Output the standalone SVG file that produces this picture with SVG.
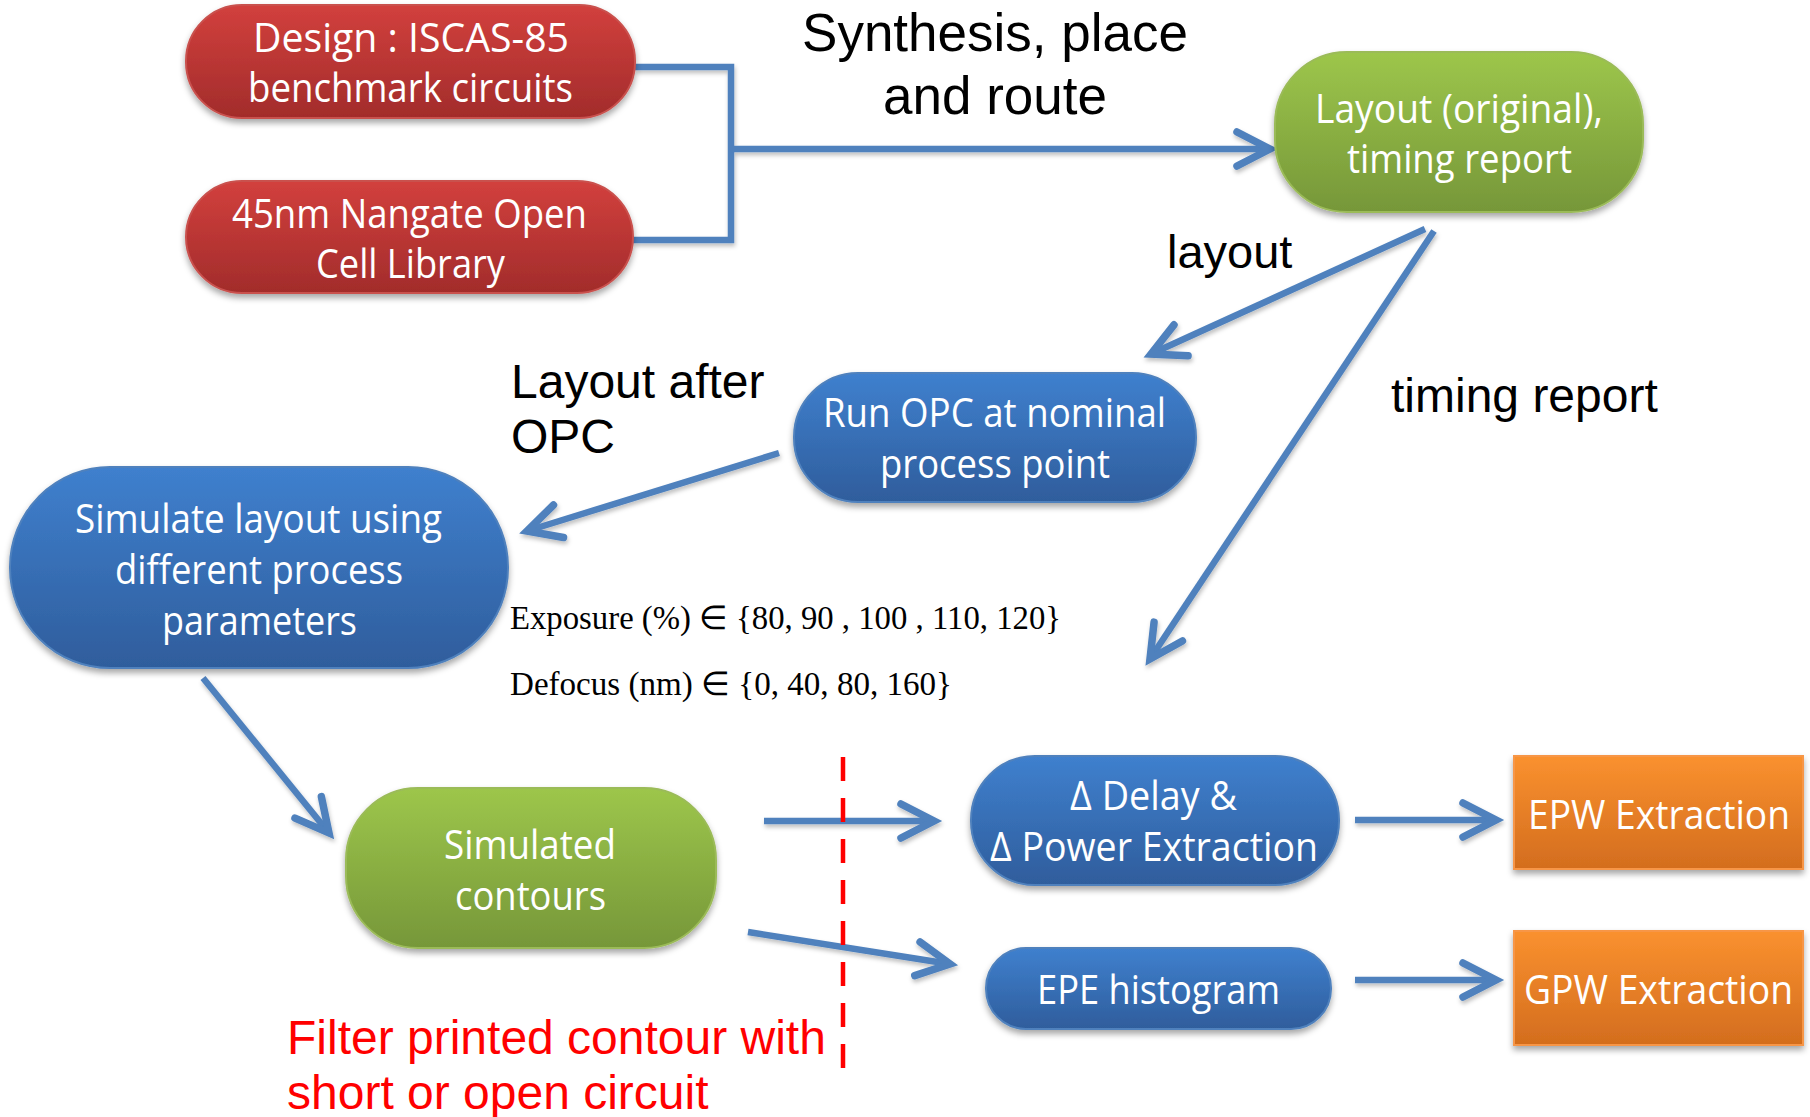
<svg xmlns="http://www.w3.org/2000/svg" width="1810" height="1117" viewBox="0 0 1810 1117">
<defs>
  <linearGradient id="gRed" x1="0" y1="0" x2="0" y2="1"><stop offset="0" stop-color="#d2403d"/><stop offset="1" stop-color="#a22c2b"/></linearGradient>
  <linearGradient id="gGreen" x1="0" y1="0" x2="0" y2="1"><stop offset="0" stop-color="#9dc64b"/><stop offset="1" stop-color="#769739"/></linearGradient>
  <linearGradient id="gBlue" x1="0" y1="0" x2="0" y2="1"><stop offset="0" stop-color="#3f80ce"/><stop offset="1" stop-color="#2f5d9c"/></linearGradient>
  <linearGradient id="gOrange" x1="0" y1="0" x2="0" y2="1"><stop offset="0" stop-color="#fa912f"/><stop offset="1" stop-color="#d36d1e"/></linearGradient>
  <filter id="shadow" x="-10%" y="-10%" width="120%" height="130%">
    <feDropShadow dx="0" dy="4" stdDeviation="3" flood-color="#000" flood-opacity="0.35"/>
  </filter>
  <filter id="lshadow" x="-10%" y="-10%" width="120%" height="130%">
    <feDropShadow dx="1" dy="3" stdDeviation="2" flood-color="#000" flood-opacity="0.25"/>
  </filter>
  <marker id="arrow" markerUnits="userSpaceOnUse" viewBox="-40 -24 46 48" markerWidth="46" markerHeight="48" refX="0" refY="0" orient="auto" overflow="visible">
    <path d="M -33 -17 L 0 0 L -33 17" fill="none" stroke="#4f81bd" stroke-width="7.5" stroke-linecap="round" stroke-linejoin="miter"/>
  </marker>
</defs>
<style>
  .nt { font-family: "Open Sans", "Noto Sans", sans-serif; font-size: 40px; fill: #ffffff; text-anchor: middle; }
  .lbl { font-family: "Liberation Sans", Arial, sans-serif; fill: #000000; }
  .math { font-family: "Liberation Serif", "Times New Roman", serif; font-size: 33px; fill: #000000; }
  .conn { stroke: #4f81bd; stroke-width: 6.5; fill: none; }
  .red { fill: url(#gRed); stroke: #c9514e; stroke-width: 2; }
  .green { fill: url(#gGreen); stroke: #9bbb59; stroke-width: 2; }
  .blue { fill: url(#gBlue); stroke: #4f81bd; stroke-width: 2; }
  .orange { fill: url(#gOrange); stroke: #f79646; stroke-width: 2; }
</style>
<rect width="1810" height="1117" fill="#ffffff"/>

<g id="connectors" filter="url(#lshadow)">
  <polyline class="conn" points="635,67 731,67 731,240 633,240"/>
  <line class="conn" x1="731" y1="149" x2="1270" y2="149" marker-end="url(#arrow)"/>
  <line class="conn" x1="1425" y1="229" x2="1151" y2="354" marker-end="url(#arrow)"/>
  <line class="conn" x1="1434" y1="231" x2="1150" y2="659" marker-end="url(#arrow)"/>
  <line class="conn" x1="779" y1="453" x2="527" y2="531" marker-end="url(#arrow)"/>
  <line class="conn" x1="203" y1="678" x2="329" y2="833" marker-end="url(#arrow)"/>
  <line class="conn" x1="764" y1="821" x2="934" y2="821" marker-end="url(#arrow)"/>
  <line class="conn" x1="748" y1="932" x2="950" y2="964" marker-end="url(#arrow)"/>
  <line class="conn" x1="1355" y1="820" x2="1496" y2="820" marker-end="url(#arrow)"/>
  <line class="conn" x1="1355" y1="980" x2="1496" y2="980" marker-end="url(#arrow)"/>
</g>

<line id="filter-line" x1="843" y1="757" x2="843" y2="1074" stroke="#ff0000" stroke-width="4.5" stroke-dasharray="24,17"/>

<g id="design">
  <rect class="red" x="186" y="5" width="449" height="113" rx="56" filter="url(#shadow)"/>
  <text class="nt" x="411" y="52" textLength="316" lengthAdjust="spacingAndGlyphs">Design : ISCAS-85</text>
  <text class="nt" x="410.5" y="102" textLength="325" lengthAdjust="spacingAndGlyphs">benchmark circuits</text>
</g>
<g id="nangate">
  <rect class="red" x="186" y="181" width="447" height="112" rx="56" filter="url(#shadow)"/>
  <text class="nt" x="409.5" y="228" textLength="355" lengthAdjust="spacingAndGlyphs">45nm Nangate Open</text>
  <text class="nt" x="410.5" y="278" textLength="189" lengthAdjust="spacingAndGlyphs">Cell Library</text>
</g>
<g id="layout-original">
  <rect class="green" x="1275" y="52" width="368" height="160" rx="72" filter="url(#shadow)"/>
  <text class="nt" x="1459" y="123" textLength="288" lengthAdjust="spacingAndGlyphs">Layout (original),</text>
  <text class="nt" x="1459.5" y="173" textLength="225" lengthAdjust="spacingAndGlyphs">timing report</text>
</g>
<g id="run-opc">
  <rect class="blue" x="794" y="373" width="402" height="129" rx="64" filter="url(#shadow)"/>
  <text class="nt" x="994.5" y="427" textLength="343" lengthAdjust="spacingAndGlyphs">Run OPC at nominal</text>
  <text class="nt" x="995" y="478" textLength="230" lengthAdjust="spacingAndGlyphs">process point</text>
</g>
<g id="simulate">
  <rect class="blue" x="10" y="467" width="498" height="201" rx="100" filter="url(#shadow)"/>
  <text class="nt" x="258.5" y="533" textLength="367" lengthAdjust="spacingAndGlyphs">Simulate layout using</text>
  <text class="nt" x="259" y="584" textLength="288" lengthAdjust="spacingAndGlyphs">different process</text>
  <text class="nt" x="259.5" y="635" textLength="195" lengthAdjust="spacingAndGlyphs">parameters</text>
</g>
<g id="simulated-contours">
  <rect class="green" x="346" y="788" width="370" height="160" rx="72" filter="url(#shadow)"/>
  <text class="nt" x="530" y="859" textLength="172" lengthAdjust="spacingAndGlyphs">Simulated</text>
  <text class="nt" x="530.5" y="910" textLength="151" lengthAdjust="spacingAndGlyphs">contours</text>
</g>
<g id="delay-power">
  <rect class="blue" x="971" y="756" width="368" height="129" rx="64" filter="url(#shadow)"/>
  <text class="nt" x="1153.5" y="810" textLength="167" lengthAdjust="spacingAndGlyphs">Δ Delay &amp;</text>
  <text class="nt" x="1154" y="861" textLength="328" lengthAdjust="spacingAndGlyphs">Δ Power Extraction</text>
</g>
<g id="epe-histogram">
  <rect class="blue" x="986" y="948" width="345" height="81" rx="40" filter="url(#shadow)"/>
  <text class="nt" x="1158.5" y="1004" textLength="243" lengthAdjust="spacingAndGlyphs">EPE histogram</text>
</g>
<g id="epw">
  <rect class="orange" x="1514" y="756" width="289" height="113" filter="url(#shadow)"/>
  <text class="nt" x="1659" y="829" textLength="262" lengthAdjust="spacingAndGlyphs">EPW Extraction</text>
</g>
<g id="gpw">
  <rect class="orange" x="1514" y="931" width="289" height="114" filter="url(#shadow)"/>
  <text class="nt" x="1658.5" y="1004" textLength="269" lengthAdjust="spacingAndGlyphs">GPW Extraction</text>
</g>

<g id="labels">
  <text class="lbl" x="995" y="51" font-size="53" text-anchor="middle">Synthesis, place</text>
  <text class="lbl" x="995" y="114" font-size="53" text-anchor="middle">and route</text>
  <text class="lbl" x="1167" y="268" font-size="47">layout</text>
  <text class="lbl" x="1391" y="412" font-size="48">timing report</text>
  <text class="lbl" x="511" y="398" font-size="48">Layout after</text>
  <text class="lbl" x="511" y="453" font-size="48">OPC</text>
  <text class="math" x="510" y="629" textLength="551" lengthAdjust="spacingAndGlyphs">Exposure (%) ∈ {80, 90 , 100 , 110, 120}</text>
  <text class="math" x="510" y="695" textLength="442" lengthAdjust="spacingAndGlyphs">Defocus (nm) ∈ {0, 40, 80, 160}</text>
  <text x="287" y="1054" font-family="'Liberation Sans', Arial, sans-serif" font-size="48" fill="#ff0000">Filter printed contour with</text>
  <text x="287" y="1109" font-family="'Liberation Sans', Arial, sans-serif" font-size="48" fill="#ff0000">short or open circuit</text>
</g>
</svg>
